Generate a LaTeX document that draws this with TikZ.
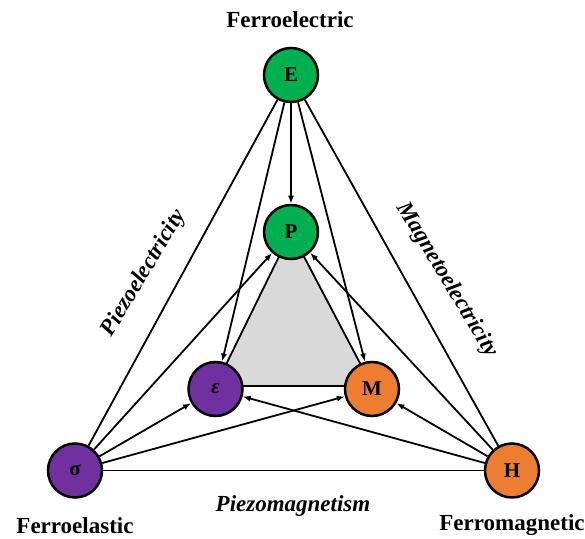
\documentclass[tikz,border=0pt]{standalone}
\usepackage{fontspec}
\setmainfont{Liberation Serif}
\usetikzlibrary{arrows.meta}
\definecolor{cgreen}{HTML}{00B050}
\definecolor{cpurple}{HTML}{7030A0}
\definecolor{corange}{HTML}{ED7D31}
\definecolor{cgray}{HTML}{D9D9D9}
\tikzset{
  circ/.style={circle, draw=black, line width=2.5pt, minimum size=54pt, inner sep=0pt, font=\fontsize{21}{21}\selectfont\bfseries},
  gnode/.style={circ, fill=cgreen},
  pnode/.style={circ, fill=cpurple},
  onode/.style={circ, fill=corange},
  lbl/.style={font=\fontsize{23}{23}\selectfont\bfseries},
  ilbl/.style={font=\fontsize{23}{23}\selectfont\bfseries\itshape},
  conn/.style={line width=1.8pt},
  arr/.style={conn, -{Latex[length=8pt,width=6pt]}}
}
\begin{document}
\begin{tikzpicture}[x=1pt,y=1pt]
\useasboundingbox (0,0) rectangle (585,538);
\coordinate (cE) at (291,463);
\coordinate (cP) at (291,306);
\coordinate (cEp) at (215.5,149);
\coordinate (cM) at (372,149);
\coordinate (cS) at (75,67.5);
\coordinate (cH) at (512,67.5);
% gray triangle
\filldraw[fill=cgray, draw=black, line width=1.8pt] (cP) -- (215.5,152) -- (372,152) -- cycle;
% nodes
\node[gnode] (E) at (cE) {E};
\node[gnode] (P) at (cP) {P};
\node[pnode] (Ep) at (cEp) {\textit{ε}};
\node[onode] (M) at (cM) {M};
\node[pnode] (S) at (cS) {σ};
\node[onode] (H) at (cH) {H};
% outer triangle
\draw[conn] (E) -- (S);
\draw[conn] (E) -- (H);
\draw[conn] (S) -- (H);
% arrows
\draw[arr] (E) -- (P);
\draw[arr] (E) -- (Ep);
\draw[arr] (E) -- (M);
\draw[arr] (S) -- (P);
\draw[arr] (S) -- (Ep);
\draw[arr] (S) -- (M);
\draw[arr] (H) -- (P);
\draw[arr] (H) -- (Ep);
\draw[arr] (H) -- (M);
% labels
\node[lbl] (tE) at (290,518) {Ferroelectric};
\node[lbl] (tS) at (75,12.5) {Ferroelastic};
\node[lbl] (tH) at (512,12.5) {Ferromagnetic};
\node[ilbl] (tPM) at (293,32) {Piezomagnetism};
\node[ilbl, rotate=59] (tPE) at (144,265) {Piezoelectricity};
\node[ilbl, rotate=-59] (tME) at (447,258) {Magnetoelectricity};
\end{tikzpicture}
\end{document}
